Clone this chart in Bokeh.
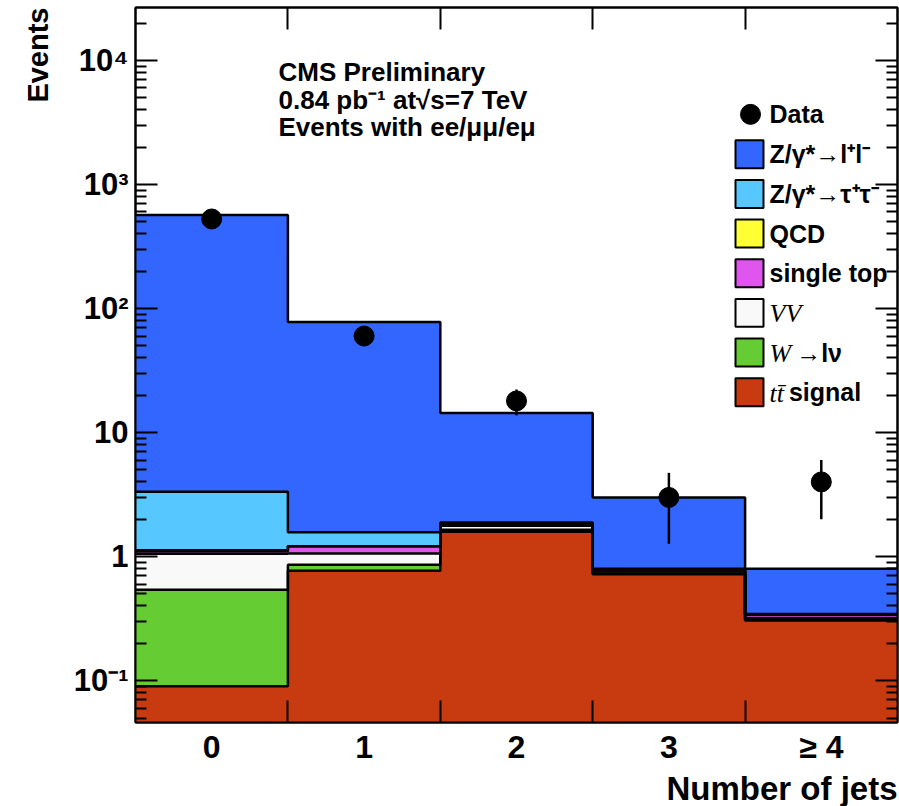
import numpy as np
from bokeh.plotting import figure
from bokeh.models import (FixedTicker, LogAxis, LinearAxis, Label, Range1d, Title,
                          LinearScale, CustomJSTickFormatter)
from bokeh.embed import file_html
from bokeh.resources import INLINE

# ---- data: jet multiplicity in dilepton events ----
jet_bins = [0, 1, 2, 3, 4]
jet_labels = ["0", "1", "2", "3", "\u2265 4"]

ttbar_signal = [0.09, 0.77, 1.59, 0.72, 0.305]
w_lnu = [0.45, 0.09, 0.06, 0.01, 0.005]
diboson = [0.515, 0.20, 0.12, 0.03, 0.01]
single_top = [0.05, 0.15, 0.08, 0.03, 0.02]
qcd = [0.02, 0.0, 0.0, 0.0, 0.0]
z_tautau = [2.21, 0.36, 0.03, 0.01, 0.005]
z_ll = [564.0, 76.4, 12.5, 2.19, 0.455]

data_counts = [527, 60, 18, 3, 4]

# stack order from bottom to top, with fill colours
stack_names = ["ttbar", "wlnu", "vv", "stop", "qcd", "ztt", "zll"]
stack_values = [ttbar_signal, w_lnu, diboson, single_top, qcd, z_tautau, z_ll]
stack_colors = ["#c83a10", "#66cc33", "#f9f9f9", "#e055ee", "#ffff33", "#57c7ff", "#3366ff"]

# legend entries, top to bottom; each label is a list of (text, serif-italic?) pieces
legend_order = ["zll", "ztt", "qcd", "stop", "vv", "wlnu", "ttbar"]
legend_text = {
    "zll": [("Z/\u03b3*\u2192l\u207al\u207b", False)],
    "ztt": [("Z/\u03b3*\u2192\u03c4\u207a\u03c4\u207b", False)],
    "qcd": [("QCD", False)],
    "stop": [("single top", False)],
    "vv": [("VV", True)],
    "wlnu": [("W", True), ("\u2192l\u03bd", False)],
    "ttbar": [("t\u0074\u0304", True), ("signal", False)],
}

# y-axis decade ticks and their labels
y_tick_values = [1e4, 1e3, 1e2, 10, 1, 0.1]
y_tick_labels = ["10\u2074", "10\u00b3", "10\u00b2", "10", "1", "10\u207b\u00b9"]

Y_MIN, Y_MAX = 0.046, 26700.0
FONT = "Liberation Sans"
SERIF = "Liberation Serif"
L, R, T, B = 135, 897, 7, 723          # frame edges in canvas pixels

p = figure(width=899, height=806, x_range=Range1d(-0.5, 4.5),
           y_range=Range1d(Y_MIN, Y_MAX), y_axis_type="log",
           output_backend="svg", toolbar_location=None,
           min_border_left=L, min_border_right=899 - R,
           min_border_top=T, min_border_bottom=806 - B)
p.xgrid.visible = False
p.ygrid.visible = False
p.outline_line_color = "black"
p.outline_line_width = 2
p.background_fill_color = "white"
p.border_fill_color = "white"

# pixel-space ranges (linear) used to place the legend and header text
p.extra_x_ranges = {"px": Range1d(L, R)}
p.extra_y_ranges = {"px": Range1d(B, T)}
p.extra_x_scales = {"px": LinearScale()}
p.extra_y_scales = {"px": LinearScale()}

edges = np.arange(len(jet_bins) + 1) - 0.5


def step_polygon(bottom, top):
    xs = np.repeat(edges, 2)[1:-1]
    ys_top = np.repeat(top, 2)
    ys_bot = np.repeat(bottom, 2)
    return np.concatenate([xs, xs[::-1]]), np.concatenate([ys_top, ys_bot[::-1]])


# filled stack layers (each drawn as one polygon)
cum = np.full(len(jet_bins), 1e-4)
cums = []
for vals, col in zip(stack_values, stack_colors):
    new = cum + np.asarray(vals, dtype=float) if cums else np.asarray(vals, dtype=float)
    px, py = step_polygon(cum, new)
    p.patch(px, py, fill_color=col, line_color=None)
    cums.append(new.copy())
    cum = new

# step outlines of each cumulative histogram
for c in cums:
    p.step(x=edges, y=np.append(c, c[-1]), mode="after",
           line_color="black", line_width=2.5)

# data points with sqrt(N) errors
counts = np.asarray(data_counts, dtype=float)
err = np.sqrt(counts)
p.segment(x0=jet_bins, y0=counts - err, x1=jet_bins, y1=counts + err,
          line_color="black", line_width=2.5)
p.scatter(x=jet_bins, y=counts, size=20, color="black")

# axes: ticks pointing into the frame
decades = [10.0 ** k for k in range(-2, 6)]
minor = [m * d for d in decades for m in range(2, 10)]
yticker = FixedTicker(ticks=decades, minor_ticks=minor)
xticker = FixedTicker(ticks=jet_bins, minor_ticks=list(edges[1:-1]))
blank = CustomJSTickFormatter(code="return ''")
decade_fmt = CustomJSTickFormatter(
    args=dict(vals=y_tick_values, labs=y_tick_labels),
    code="""
        for (let i = 0; i < vals.length; i++) {
            if (Math.abs(Math.log10(tick) - Math.log10(vals[i])) < 1e-6) return labs[i];
        }
        return '';
    """)

left_axis = p.left[0]
right_axis = LogAxis(ticker=yticker)
p.add_layout(right_axis, "right")
for ax in (left_axis, right_axis):
    ax.ticker = yticker
    ax.major_tick_in = 22
    ax.major_tick_out = 0
    ax.minor_tick_in = 11
    ax.minor_tick_out = 0
    ax.major_tick_line_width = 2
    ax.minor_tick_line_width = 2
    ax.axis_line_width = 2
right_axis.formatter = blank
right_axis.major_label_standoff = 0
left_axis.formatter = decade_fmt
left_axis.major_label_standoff = 7
left_axis.major_label_text_font = FONT
left_axis.major_label_text_font_style = "bold"
left_axis.major_label_text_font_size = "31px"
left_axis.major_label_text_color = "black"

bottom_axis = p.below[0]
top_axis = LinearAxis(ticker=xticker)
p.add_layout(top_axis, "above")
for ax in (bottom_axis, top_axis):
    ax.ticker = xticker
    ax.major_tick_in = 0
    ax.major_tick_out = 0
    ax.minor_tick_in = 22
    ax.minor_tick_out = 0
    ax.minor_tick_line_width = 2
    ax.axis_line_width = 2
top_axis.formatter = blank
top_axis.major_label_standoff = 0
bottom_axis.major_label_overrides = {b: t for b, t in zip(jet_bins, jet_labels)}
bottom_axis.major_label_text_font = FONT
bottom_axis.major_label_text_font_style = "bold"
bottom_axis.major_label_text_font_size = "32px"
bottom_axis.major_label_text_color = "black"
bottom_axis.major_label_standoff = 6

# axis titles, aligned to the far end of each axis
p.add_layout(Title(text="Events", align="right", text_font=FONT,
                   text_font_style="bold", text_font_size="29px",
                   text_color="black", standoff=34, offset=0), "left")
p.add_layout(Title(text="Number of jets", align="right", text_font=FONT,
                   text_font_style="bold", text_font_size="33px",
                   text_color="black", standoff=0, offset=0), "below")


def px_label(x, y, text, size, align="left", baseline="middle", font=FONT, style="bold"):
    p.add_layout(Label(x=x, y=y, text=text, x_range_name="px", y_range_name="px",
                       text_align=align, text_baseline=baseline,
                       text_font=font, text_font_style=style,
                       text_font_size=f"{size}px", text_color="black"))


# header text
header = ["CMS Preliminary", "0.84 pb\u207b\u00b9 at\u221as=7 TeV",
          "Events with ee/\u03bc\u03bc/e\u03bc"]
for i, line in enumerate(header):
    px_label(278, 72 + 27.5 * i, line, 26, baseline="alphabetic")

# legend: data marker and stack swatches
LEG_SIZE = 25
serif_adv = {"V": 0.611, "W": 0.833, "t": 0.278}
p.scatter(x=[750], y=[114], size=20, color="black", x_range_name="px", y_range_name="px")
px_label(769, 114, "Data", LEG_SIZE)
color_of = dict(zip(stack_names, stack_colors))
rows = np.arange(len(legend_order))
row_y = 154 + 39.7 * rows
p.quad(left=735, right=763, top=row_y - 14, bottom=row_y + 14,
       fill_color=[color_of[n] for n in legend_order], line_color="black", line_width=2,
       x_range_name="px", y_range_name="px")
for n, yy in zip(legend_order, row_y):
    xx = 769
    for piece, serif in legend_text[n]:
        if serif:
            px_label(xx, yy + 1, piece, LEG_SIZE + 1, font=SERIF, style="italic")
            xx += sum(serif_adv.get(ch, 0.0) for ch in piece) * (LEG_SIZE + 1) + 5
        else:
            px_label(xx, yy, piece, LEG_SIZE)

open("out.html", "w").write(file_html(p, INLINE))
